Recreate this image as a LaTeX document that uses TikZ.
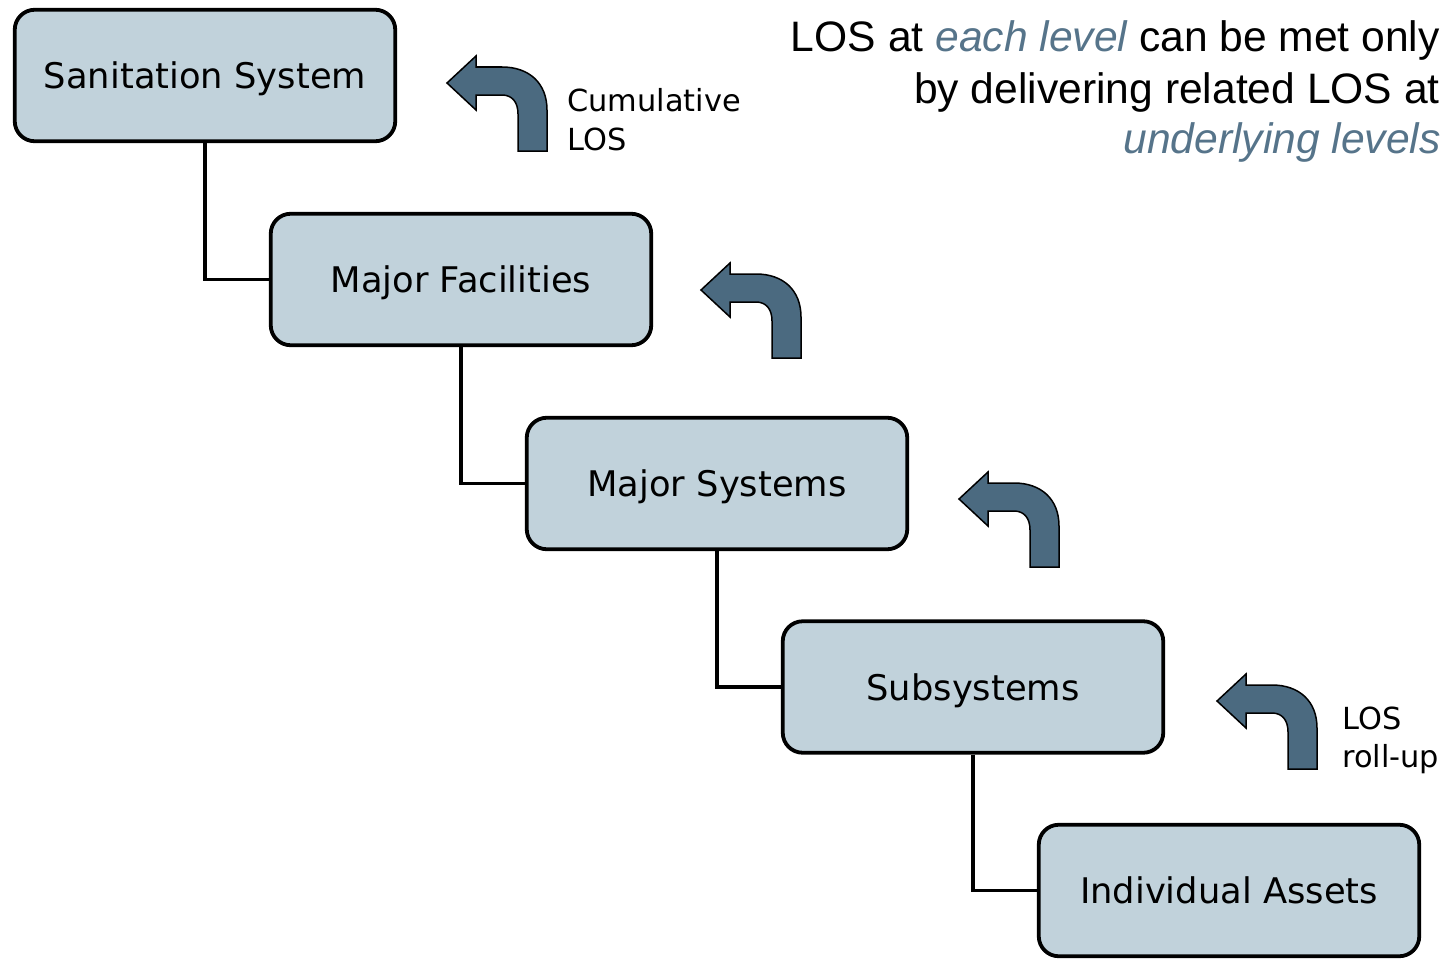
\documentclass[tikz,border=0pt]{standalone}
\usepackage{fontspec}
\setmainfont{DejaVu Sans}
\newfontfamily\notefont{Liberation Sans}
\definecolor{boxfill}{HTML}{C1D2DB}
\definecolor{arrowfill}{HTML}{4B6A80}
\definecolor{accent}{HTML}{56748A}
\tikzset{
  level/.style={draw=black, line width=3.8pt, fill=boxfill, rounded corners=20pt,
    minimum width=380.5pt, minimum height=131.5pt, inner sep=0pt, text depth=0pt,
    font=\fontsize{35.3}{40}\selectfont},
  link/.style={draw=black, line width=3.2pt},
  rollarrow/.style={draw=black, line width=1.5pt, fill=arrowfill, line join=miter},
  tag/.style={anchor=base west, inner sep=0pt, font=\fontsize{30.4}{36}\selectfont},
  note/.style={anchor=base east, inner sep=0pt, font=\notefont\fontsize{42.6}{51}\selectfont}
}
% curved roll-up arrow, placed by the top-left corner of its box
\newcommand{\rollup}[2]{%
  \begin{scope}[shift={(#1,#2)}]
    \path[rollarrow] (0,27) -- (29,0) -- (29,11) -- (55,11)
      .. controls (82,11) and (100,27) .. (100,54) -- (100,95) -- (71,95) -- (71,58)
      .. controls (71,46) and (65,39) .. (55,39) -- (29,39) -- (29,54) -- cycle;
  \end{scope}}
\begin{document}
\begin{tikzpicture}[x=1pt, y=-1pt]
  \useasboundingbox (0,0) rectangle (1450,958);

  \node[level] (san) at (205,75.5) {Sanitation System};
  \node[level] (fac) at (461,279.5) {Major Facilities};
  \node[level] (sys) at (717,483.5) {Major Systems};
  \node[level] (sub) at (973,687) {Subsystems};
  \node[level] (ind) at (1229,890.5) {Individual Assets};

  \draw[link] (san.south) |- (fac.west);
  \draw[link] (fac.south) |- (sys.west);
  \draw[link] (sys.south) |- (sub.west);
  \draw[link] (sub.south) |- (ind.west);

  \rollup{447}{56}
  \rollup{701}{263}
  \rollup{959}{472}
  \rollup{1217}{674}

  \node[tag] (cum1) at (567,111) {Cumulative};
  \node[tag] (cum2) at (567,150) {LOS};
  \node[tag] (roll1) at (1342,729) {LOS};
  \node[tag] (roll2) at (1342,767) {roll-up};

  \node[note] (n1) at (1440,52) {LOS at \textcolor{accent}{\itshape each level} can be met only};
  \node[note] (n2) at (1440,103) {by delivering related LOS at};
  \node[note] (n3) at (1441,153) {\textcolor{accent}{\itshape underlying levels}};
\end{tikzpicture}
\end{document}
